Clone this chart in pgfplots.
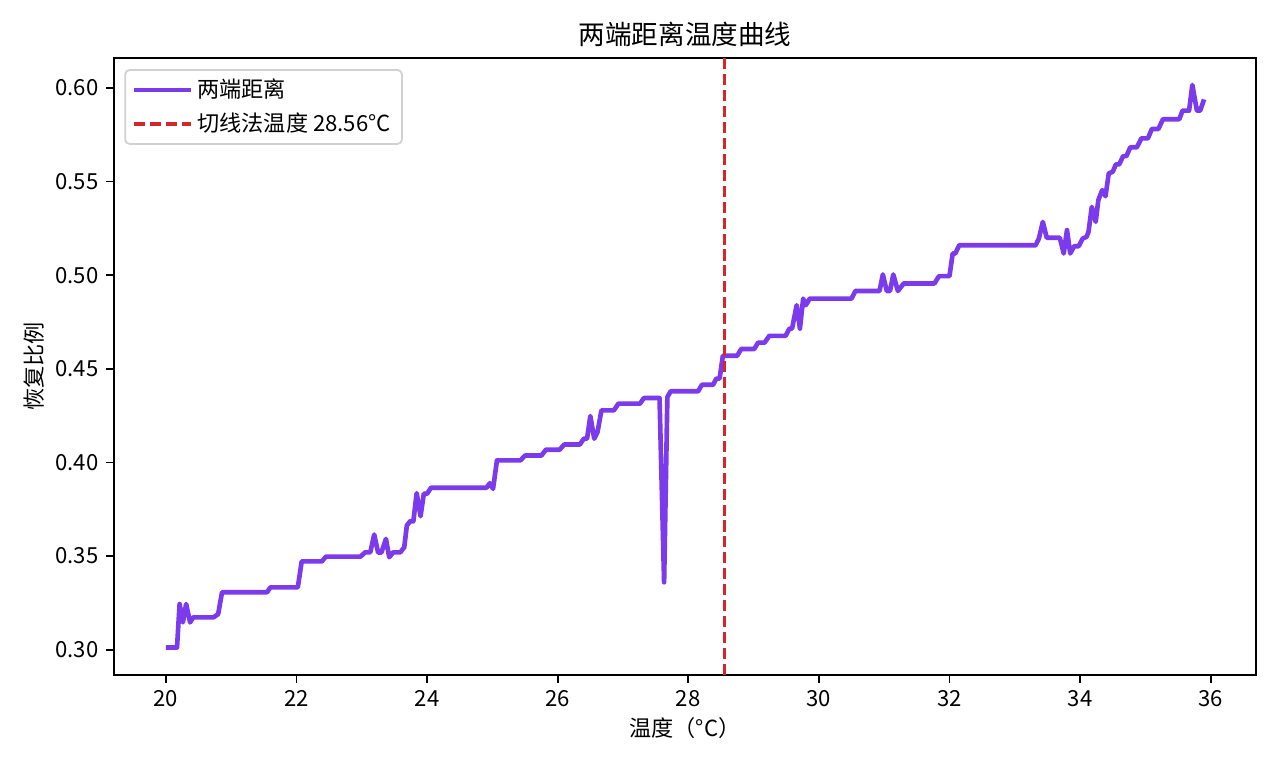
\documentclass[border=0pt]{standalone}
\usepackage{fontspec}
\setmainfont{Noto Sans CJK SC}
\usepackage{pgfplots}
\pgfplotsset{compat=1.18}
\definecolor{linepurple}{HTML}{7C3AED}
\definecolor{vred}{HTML}{D62728}
\begin{document}
\begin{tikzpicture}
\begin{axis}[
    scale only axis,
    width=7.1375in, height=3.85625in,
    xmin=19.205, xmax=36.695,
    ymin=0.2865, ymax=0.616,
    xtick={20,22,...,36},
    ytick={0.30,0.35,0.40,0.45,0.50,0.55,0.60},
    yticklabel style={/pgf/number format/.cd, fixed, fixed zerofill, precision=2},
    /pgf/number format/assume math mode=true,
    tick align=outside,
    major tick length=3.5pt,
    tick style={line width=0.8pt, black},
    axis line style={line width=0.8pt},
    ticklabel style={font=\fontsize{10}{12}\selectfont},
    xtick pos=bottom, ytick pos=left,
    title={两端距离温度曲线},
    title style={font=\fontsize{12}{14}\selectfont, yshift=-4.5pt},
    xlabel={温度（°C）},
    ylabel={恢复比例},
    label style={font=\fontsize{10}{12}\selectfont},
    xlabel style={yshift=2pt},
    ylabel style={yshift=-2pt},
    legend style={at={(0.009,0.982)}, anchor=north west, draw=black!18, rounded corners=2pt,
        font=\fontsize{10}{12}\selectfont, inner xsep=3pt, inner ysep=2pt,
        row sep=1.5pt, line width=0.8pt},
    legend cell align=left,
    legend image code/.code={\draw[#1] (0cm,0cm) -- (0.76cm,0cm); \path (0cm,0cm) -- (0.9cm,0cm);},
]
\addplot[linepurple, line width=2.1pt, line join=round] coordinates {
(20.00,0.3012) (20.17,0.3012) (20.21,0.3244) (20.26,0.3146) (20.31,0.3244)
(20.37,0.3146) (20.42,0.3173) (20.73,0.3173) (20.80,0.3190) (20.86,0.3307)
(21.55,0.3307) (21.60,0.3333) (22.02,0.3333) (22.08,0.3472) (22.39,0.3472)
(22.45,0.3497) (22.98,0.3497) (23.05,0.3520) (23.13,0.3520) (23.19,0.3615)
(23.25,0.3519) (23.30,0.3519) (23.37,0.3592) (23.42,0.3494) (23.48,0.3520)
(23.59,0.3520) (23.65,0.3547) (23.69,0.3663) (23.74,0.3686) (23.79,0.3686)
(23.84,0.3836) (23.90,0.3713) (23.95,0.3833) (24.00,0.3833) (24.06,0.3865)
(24.91,0.3865) (24.96,0.3889) (25.01,0.3859) (25.07,0.4011) (25.43,0.4011)
(25.50,0.4037) (25.75,0.4037) (25.82,0.4068) (26.03,0.4068) (26.10,0.4096)
(26.34,0.4096) (26.40,0.4127) (26.45,0.4127) (26.50,0.4248) (26.56,0.4127)
(26.61,0.4162) (26.67,0.4278) (26.86,0.4278) (26.93,0.4314) (27.26,0.4314)
(27.32,0.4344) (27.56,0.4344) (27.63,0.3360) (27.68,0.4349) (27.73,0.4380)
(28.15,0.4380) (28.21,0.4415) (28.38,0.4415) (28.43,0.4448) (28.48,0.4448)
(28.53,0.4570) (28.75,0.4570) (28.81,0.4606) (29.01,0.4606) (29.07,0.4640)
(29.17,0.4640) (29.24,0.4676) (29.49,0.4676) (29.55,0.4715) (29.59,0.4715)
(29.66,0.4840) (29.71,0.4715) (29.76,0.4875) (29.80,0.4840) (29.86,0.4875)
(30.50,0.4875) (30.56,0.4916) (30.93,0.4916) (30.98,0.5004) (31.04,0.4916)
(31.09,0.4916) (31.14,0.5004) (31.21,0.4916) (31.30,0.4956) (31.77,0.4956)
(31.84,0.4995) (32.00,0.4995) (32.05,0.5116) (32.09,0.5116) (32.15,0.5160)
(33.32,0.5160) (33.37,0.5196) (33.43,0.5285) (33.49,0.5200) (33.69,0.5200)
(33.75,0.5116) (33.80,0.5241) (33.85,0.5116) (33.91,0.5155) (33.98,0.5155)
(34.04,0.5196) (34.10,0.5205) (34.13,0.5232) (34.18,0.5365) (34.24,0.5285)
(34.28,0.5401) (34.34,0.5455) (34.39,0.5422) (34.44,0.5544) (34.50,0.5552)
(34.55,0.5592) (34.60,0.5592) (34.66,0.5636) (34.71,0.5636) (34.77,0.5683)
(34.87,0.5683) (34.94,0.5731) (35.04,0.5731) (35.10,0.5781) (35.20,0.5781)
(35.27,0.5833) (35.52,0.5833) (35.57,0.5879) (35.67,0.5879) (35.72,0.6016)
(35.79,0.5879) (35.84,0.5879) (35.90,0.5939)
};
\addlegendentry{两端距离}
\addplot[vred, line width=1.5pt, dash pattern=on 5pt off 2.2pt] coordinates {(28.56,0.2865) (28.56,0.616)};
\addlegendentry{切线法温度 28.56°C}
\end{axis}
\path (-0.7125in,-0.58125in) rectangle (7.2875in,4.21875in);
\end{tikzpicture}
\end{document}
